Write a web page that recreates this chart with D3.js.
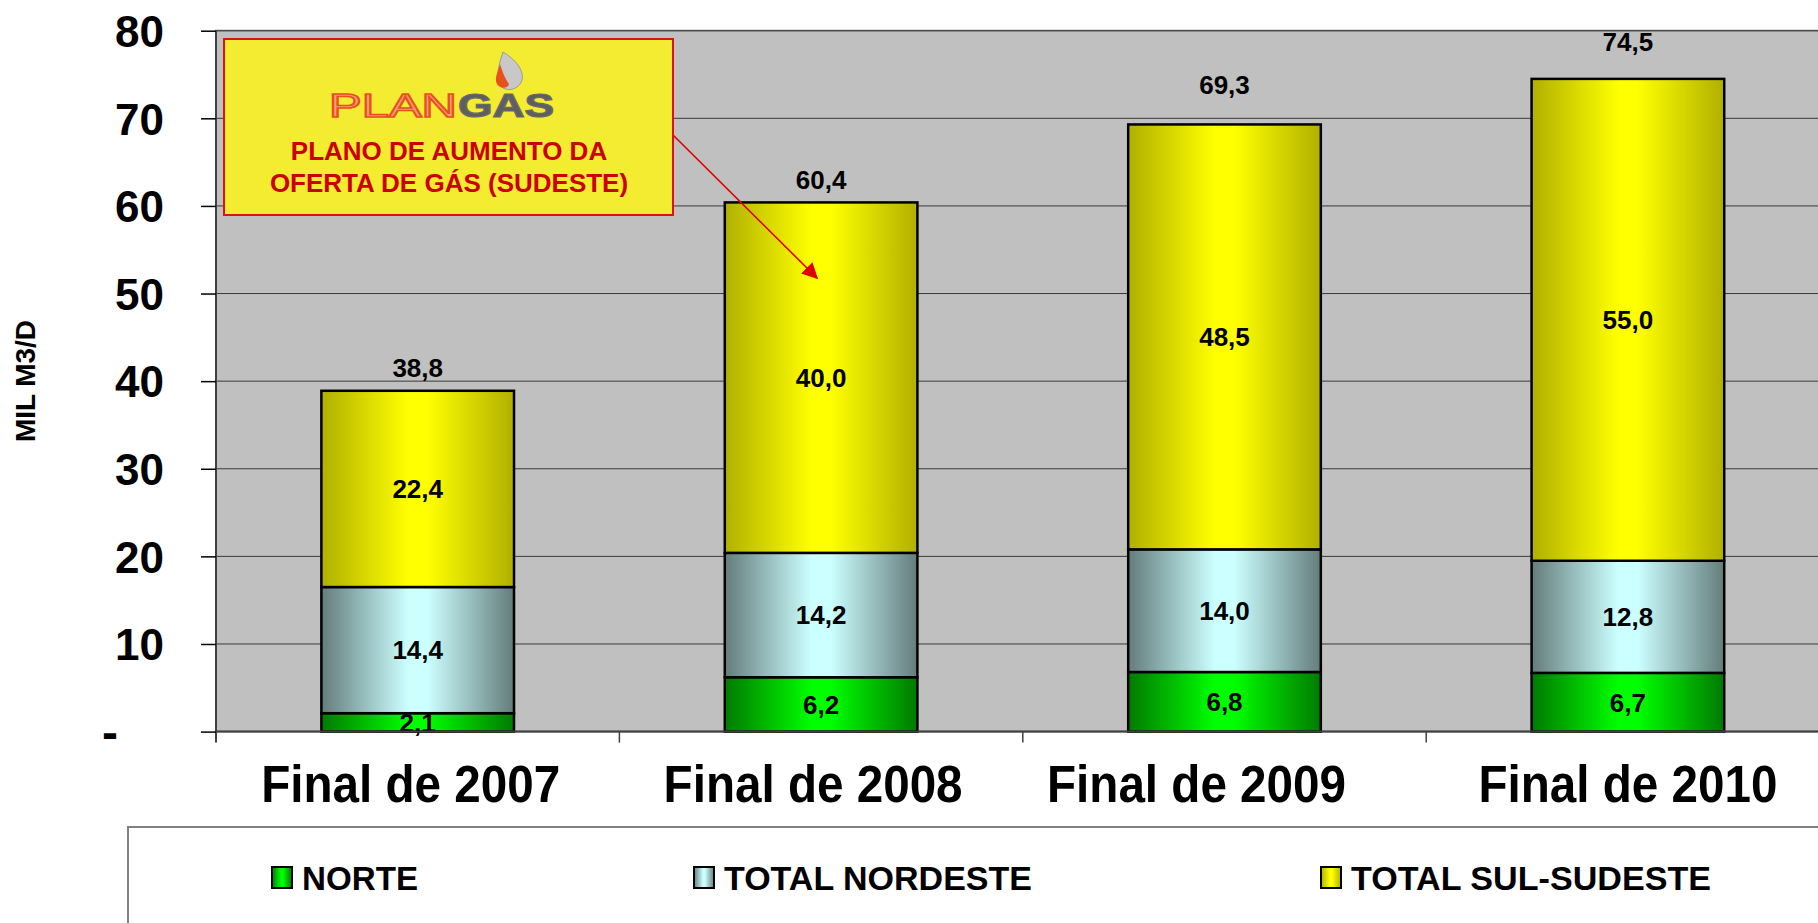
<!DOCTYPE html>
<html>
<head>
<meta charset="utf-8">
<script src="https://cdn.jsdelivr.net/npm/d3@7"></script>
<style>
  body { margin: 0; background: #fff; }
  svg { display: block; font-family: "Liberation Sans", Arial, sans-serif; font-weight: bold; }
</style>
</head>
<body>
<svg id="chart" width="1818" height="923"></svg>
<script>
// dados (mil m3/d)
const categories = ['Final de 2007', 'Final de 2008', 'Final de 2009', 'Final de 2010'];
const norte = [2.1, 6.2, 6.8, 6.7];
const nordeste = [14.4, 14.2, 14.0, 12.8];
const sulSudeste = [22.4, 40.0, 48.5, 55.0];
const totals = [38.8, 60.4, 69.3, 74.5];
const seriesNames = ['NORTE', 'TOTAL NORDESTE', 'TOTAL SUL-SUDESTE'];
const yTicks = [0, 10, 20, 30, 40, 50, 60, 70, 80];

const keys = ['norte', 'nordeste', 'sul'];
const table = categories.map((c, i) => ({cat: c, norte: norte[i], nordeste: nordeste[i], sul: sulSudeste[i], total: totals[i]}));

const fmt = d3.formatLocale({decimal: ',', thousands: '.', grouping: [3], currency: ['', '']}).format('.1f');

const svg = d3.select('#chart');
const plot = {left: 216, top: 30.7, bottom: 731.6, step: 403.4};

const x = d3.scaleBand()
    .domain(categories)
    .range([plot.left, plot.left + plot.step * categories.length])
    .paddingInner(0.5225)
    .paddingOuter(0.26125);
const y = d3.scaleLinear().domain([0, 80]).range([plot.bottom, plot.top]);

// gradientes das barras
const defs = svg.append('defs');
const grads = {
    norte: ['#007a00', '#00ff00'],
    nordeste: ['#647c7c', '#ccffff'],
    sul: ['#b0b000', '#ffff00']
};
Object.entries(grads).forEach(([k, [dark, light]]) => {
    const g = defs.append('linearGradient').attr('id', 'g-' + k).attr('x1', 0).attr('x2', 1).attr('y1', 0).attr('y2', 0);
    g.append('stop').attr('offset', 0).attr('stop-color', dark);
    g.append('stop').attr('offset', 0.45).attr('stop-color', light);
    g.append('stop').attr('offset', 0.55).attr('stop-color', light);
    g.append('stop').attr('offset', 1).attr('stop-color', dark);
});
defs.append('marker').attr('id', 'arrow').attr('viewBox', '0 0 10 10')
    .attr('refX', 9).attr('refY', 5).attr('markerWidth', 16).attr('markerHeight', 16)
    .attr('markerUnits', 'userSpaceOnUse').attr('orient', 'auto')
    .append('path').attr('d', 'M0,0 L10,5 L0,10 z').attr('fill', '#dd0000');

// fundo da área de plotagem
svg.append('rect')
    .attr('x', plot.left).attr('y', plot.top)
    .attr('width', 1818 - plot.left + 10).attr('height', plot.bottom - plot.top)
    .attr('fill', '#c0c0c0').attr('stroke', '#8a8a8a').attr('stroke-width', 2);

// grade
svg.append('g').selectAll('line')
    .data(yTicks.filter(d => d > 0))
    .join('line')
    .attr('x1', plot.left).attr('x2', 1818)
    .attr('y1', d => y(d)).attr('y2', d => y(d))
    .attr('stroke', '#3a3a3a').attr('stroke-width', 1);

// barras empilhadas
const stacked = d3.stack().keys(keys)(table);
const layers = svg.append('g').selectAll('g')
    .data(stacked)
    .join('g')
    .attr('fill', d => `url(#g-${d.key})`);

layers.selectAll('rect')
    .data(d => d)
    .join('rect')
    .attr('x', d => x(d.data.cat))
    .attr('y', d => y(d[1]))
    .attr('width', x.bandwidth())
    .attr('height', d => y(d[0]) - y(d[1]))
    .attr('stroke', '#000').attr('stroke-width', 2.5);

// rótulos internos
layers.selectAll('text')
    .data(d => d)
    .join('text')
    .attr('x', d => x(d.data.cat) + x.bandwidth() / 2)
    .attr('y', d => (y(d[0]) + y(d[1])) / 2)
    .attr('dy', '0.36em')
    .attr('text-anchor', 'middle')
    .attr('fill', '#000')
    .style('font-size', '26px')
    .text(d => fmt(d[1] - d[0]));

// totais acima das barras
const lift = [15, 13, 30, 28];
svg.append('g').selectAll('text')
    .data(table)
    .join('text')
    .attr('x', d => x(d.cat) + x.bandwidth() / 2)
    .attr('y', (d, i) => y(d.total) - lift[i])
    .attr('text-anchor', 'middle')
    .style('font-size', '26px')
    .text(d => fmt(d.total));

// eixo Y
const yAxis = svg.append('g')
    .attr('transform', `translate(${plot.left},0)`)
    .call(d3.axisLeft(y).tickValues(yTicks).tickSize(15).tickPadding(37)
        .tickFormat(d => d === 0 ? '-' : d));
yAxis.select('.domain').attr('stroke', '#404040').attr('stroke-width', 2)
    .attr('d', `M0,${plot.top}V${plot.bottom + 11}`);
yAxis.selectAll('.tick line').attr('stroke', '#000').attr('stroke-width', 1.5);
yAxis.selectAll('.tick text')
    .attr('fill', '#000')
    .style('font-size', '44px')
    .style('font-family', '"Liberation Sans", Arial, sans-serif')
    .style('font-weight', 'bold')
    .attr('dy', '0.36em');
yAxis.selectAll('.tick').filter(d => d === 0).select('text')
    .attr('x', -98).style('font-size', '48px');

// eixo X
svg.append('line')
    .attr('x1', plot.left).attr('x2', 1818)
    .attr('y1', plot.bottom).attr('y2', plot.bottom)
    .attr('stroke', '#404040').attr('stroke-width', 2);
const gap = (x.step() - x.bandwidth()) / 2;
svg.append('g').selectAll('line')
    .data(categories.slice(1))
    .join('line')
    .attr('x1', d => x(d) - gap)
    .attr('x2', d => x(d) - gap)
    .attr('y1', plot.bottom).attr('y2', plot.bottom + 11)
    .attr('stroke', '#404040').attr('stroke-width', 1.5);

const labelShift = [-7, -8, -28, 0];
svg.append('g').selectAll('text')
    .data(categories)
    .join('text')
    .attr('x', (d, i) => x(d) + x.bandwidth() / 2 + labelShift[i])
    .attr('y', 801.7)
    .attr('text-anchor', 'middle')
    .attr('textLength', 299).attr('lengthAdjust', 'spacingAndGlyphs')
    .style('font-size', '51px')
    .text(d => d);

// título do eixo Y
svg.append('text')
    .attr('transform', 'translate(35,381) rotate(-90)')
    .attr('text-anchor', 'middle')
    .attr('textLength', 122).attr('lengthAdjust', 'spacingAndGlyphs')
    .style('font-size', '28px')
    .text('MIL M3/D');

// caixa de anotação PLANGÁS
const note = svg.append('g');
note.append('line')
    .attr('x1', 673).attr('y1', 135).attr('x2', 817).attr('y2', 278)
    .attr('stroke', '#dd0000').attr('stroke-width', 1.6)
    .attr('marker-end', 'url(#arrow)');
note.append('rect')
    .attr('x', 224).attr('y', 39).attr('width', 449).attr('height', 176)
    .attr('fill', '#f4ec30').attr('stroke', '#dd1111').attr('stroke-width', 2);
note.append('text')
    .attr('x', 329).attr('y', 116.5)
    .attr('textLength', 128).attr('lengthAdjust', 'spacingAndGlyphs')
    .attr('fill', '#f7a07a').attr('stroke', '#e8501e').attr('stroke-width', 1.6)
    .style('font-size', '33px').style('font-weight', 'normal')
    .text('PLAN');
note.append('text')
    .attr('x', 458).attr('y', 116.5)
    .attr('textLength', 96).attr('lengthAdjust', 'spacingAndGlyphs')
    .attr('fill', '#5e5e5e').attr('stroke', '#6a6a6a').attr('stroke-width', 1.2)
    .style('font-size', '33px')
    .text('GAS');
// chama
note.append('path')
    .attr('d', 'M503,52 C516,60 524,70 522,80 C520,88 510,92 503,88 C496,84 496,72 503,52 Z')
    .attr('fill', '#c8c8c8').attr('stroke', '#9a9a9a').attr('stroke-width', 1);
note.append('path')
    .attr('d', 'M500,64 C498,72 494,78 497,84 C500,89 508,89 509,84 C506,80 503,74 500,64 Z')
    .attr('fill', '#e8501e');
note.selectAll('text.line')
    .data(['PLANO DE AUMENTO DA', 'OFERTA DE GÁS (SUDESTE)'])
    .join('text')
    .attr('class', 'line')
    .attr('x', 449).attr('y', (d, i) => 159.5 + i * 32.5)
    .attr('text-anchor', 'middle')
    .attr('fill', '#cc0000')
    .style('font-size', '26px')
    .text(d => d);

// legenda
const legend = svg.append('g');
legend.append('path')
    .attr('d', 'M128,923 V827 H1818')
    .attr('fill', 'none').attr('stroke', '#808080').attr('stroke-width', 2);
const legX = [272, 694, 1321];
const items = legend.selectAll('g.item')
    .data(seriesNames)
    .join('g')
    .classed('item', true)
    .attr('transform', (d, i) => `translate(${legX[i]},867)`);
items.append('rect')
    .attr('width', 20).attr('height', 21)
    .attr('fill', (d, i) => `url(#g-${keys[i]})`)
    .attr('stroke', '#000').attr('stroke-width', 2);
items.append('text')
    .attr('x', 30).attr('y', 23)
    .style('font-size', '34px')
    .attr('textLength', (d, i) => [116, 308, 360][i]).attr('lengthAdjust', 'spacingAndGlyphs')
    .text(d => d);
</script>
</body>
</html>
